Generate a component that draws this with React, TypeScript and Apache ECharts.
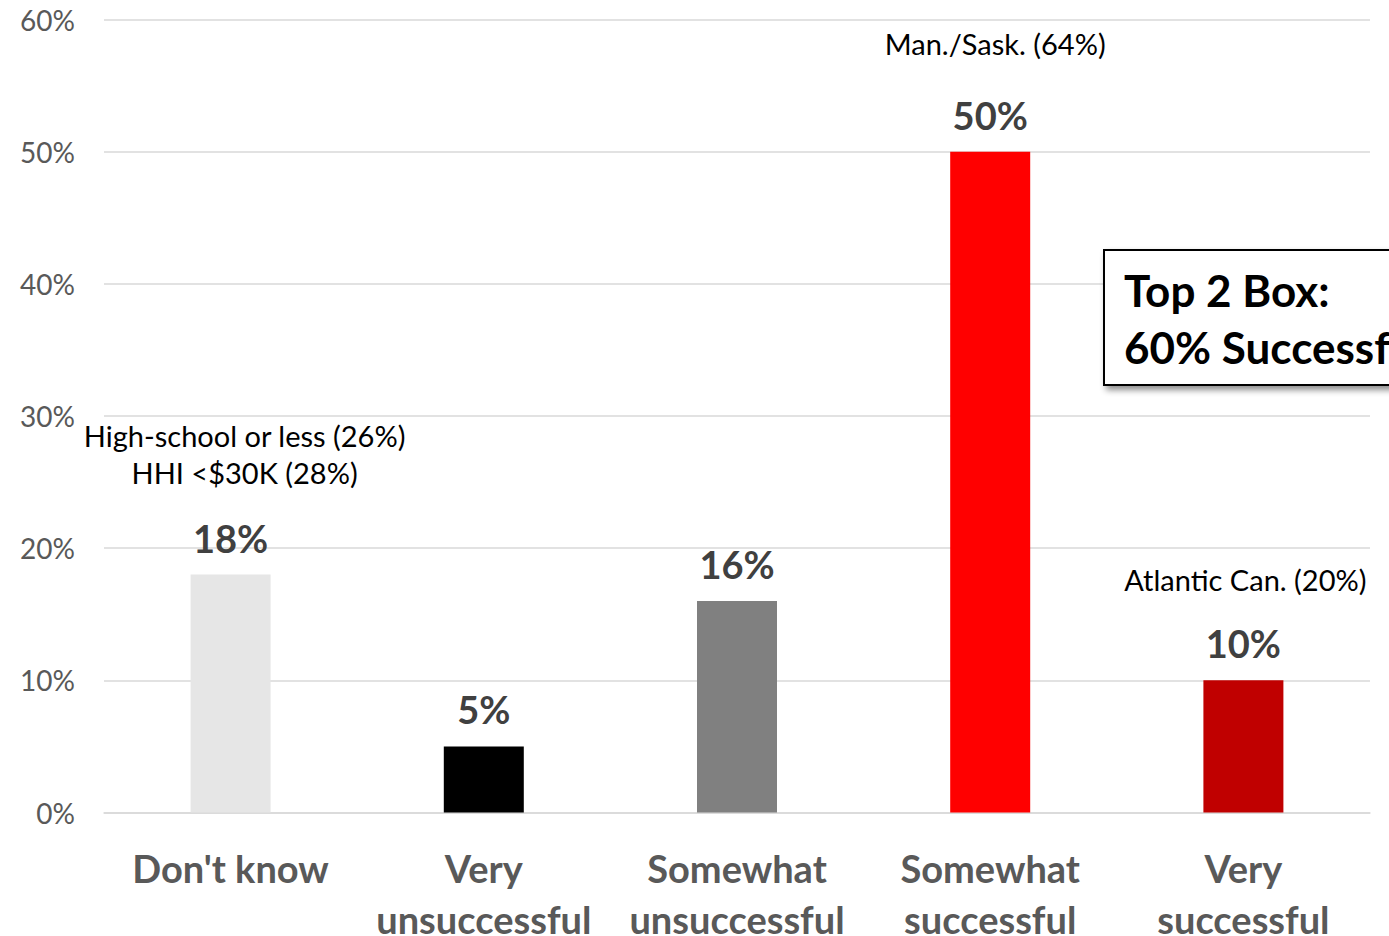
import React, { useEffect, useRef } from "react";
import * as echarts from "echarts";

const categories = ["Don't know", "Very\nunsuccessful", "Somewhat\nunsuccessful", "Somewhat\nsuccessful", "Very\nsuccessful"];
const values = [18, 5, 16, 50, 10];
const barColors = ["#E6E6E6", "#000000", "#808080", "#FF0000", "#C00000"];
const yTicks = [0, 10, 20, 30, 40, 50, 60];
// annotations: category index, value level (%) at the text block's centre, text lines
const annotations: { cat: number; level: number; lines: string[]; dx: number }[] = [
  { cat: 0, level: 27.1, lines: ["High-school or less (26%)", "HHI <$30K (28%)"], dx: 14 },
  { cat: 3, level: 58.2, lines: ["Man./Sask. (64%)"], dx: 5 },
  { cat: 4, level: 17.6, lines: ["Atlantic Can. (20%)"], dx: 2 },
];
const boxLines = ["Top 2 Box:", "60% Successful"];

const FONT = "Lato, 'Open Sans', sans-serif";

export default function App() {
  const ref = useRef<HTMLDivElement>(null);
  useEffect(() => {
    document.body.style.margin = "0";
    const chart = echarts.init(ref.current!, null, { renderer: "svg" });
    chart.setOption({
      animation: false,
      grid: { left: 104, right: 19, top: 19.5, bottom: 123.5, containLabel: false, outerBoundsMode: "none" },
      xAxis: {
        type: "category",
        data: categories,
        axisLine: { show: true, lineStyle: { color: "#D9D9D9", width: 1.5 } },
        axisTick: { show: false },
        axisLabel: {
          interval: 0,
          margin: 30,
          color: "#595959",
          fontSize: 38,
          fontWeight: "bold",
          fontFamily: FONT,
          lineHeight: 51,
        },
      },
      yAxis: {
        type: "value",
        min: 0,
        max: 60,
        interval: 10,
        axisLine: { show: false },
        axisTick: { show: false },
        splitLine: { lineStyle: { color: "#D9D9D9", width: 1.5 } },
        axisLabel: {
          margin: 29,
          color: "#595959",
          fontSize: 28,
          fontFamily: FONT,
          formatter: (v: number) => (yTicks.includes(v) ? v + "%" : ""),
        },
      },
      series: [
        {
          type: "bar",
          barWidth: 80,
          data: values.map((v, i) => ({ value: v, itemStyle: { color: barColors[i] } })),
          label: {
            show: true,
            position: "top",
            distance: 18,
            color: "#404040",
            fontSize: 38,
            fontWeight: "bold",
            fontFamily: FONT,
            formatter: (p: any) => p.value + "%",
          },
        },
      ],
    });
    const graphics: any[] = [];
    annotations.forEach((a) => {
      const [x, y] = chart.convertToPixel({ gridIndex: 0 }, [a.cat, a.level]) as number[];
      graphics.push({
        type: "text",
        x: x + a.dx,
        y,
        style: {
          text: a.lines.join("\n"),
          fill: "#000000",
          font: `29px ${FONT}`,
          lineHeight: 37,
          align: "center",
          verticalAlign: "middle",
        },
      });
    });
    graphics.push({
      type: "rect",
      shape: { x: 1104, y: 250, width: 320, height: 135 },
      style: {
        fill: "#FFFFFF",
        stroke: "#000000",
        lineWidth: 2,
        shadowBlur: 6,
        shadowOffsetX: 3,
        shadowOffsetY: 4,
        shadowColor: "rgba(0,0,0,0.45)",
      },
      z: 100,
    });
    graphics.push({
      type: "text",
      x: 1124,
      y: 318,
      z: 101,
      style: {
        text: boxLines.join("\n"),
        fill: "#000000",
        font: `bold 44px ${FONT}`,
        lineHeight: 57,
        align: "left",
        verticalAlign: "middle",
      },
    });
    chart.setOption({ graphic: graphics });
    return () => chart.dispose();
  }, []);
  return <div ref={ref} style={{ width: 1389, height: 936 }} />;
}
